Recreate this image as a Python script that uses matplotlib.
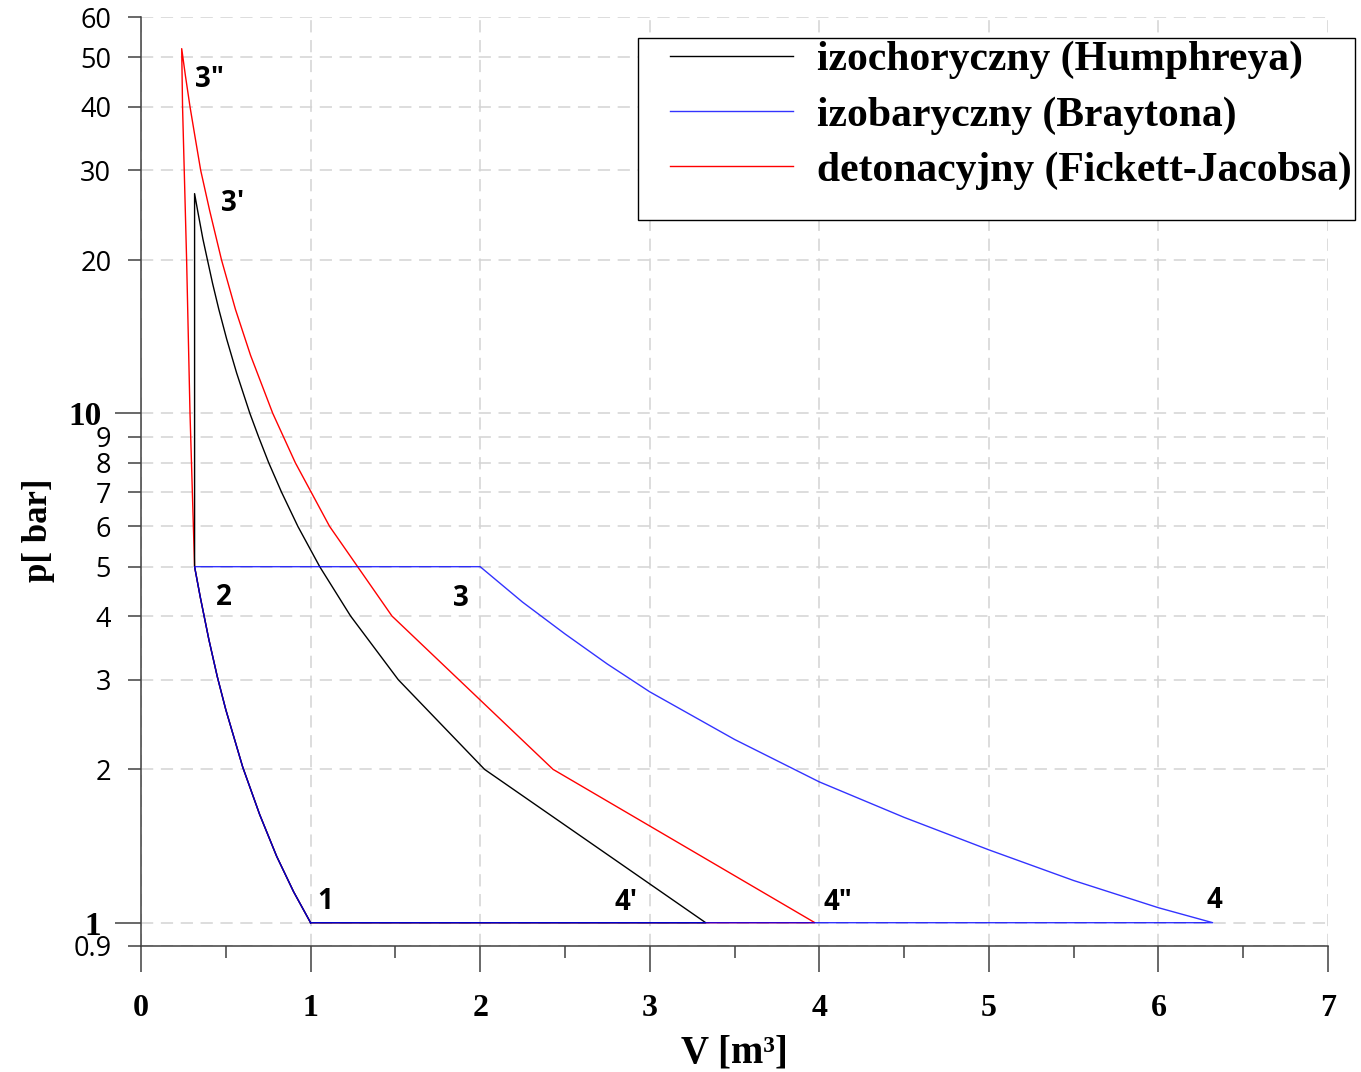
import matplotlib
matplotlib.use('Agg')
import matplotlib.pyplot as plt
from matplotlib.patches import Rectangle
from matplotlib.font_manager import FontProperties

# wspolne sprezanie 1-2
v_comp = [1.0, 0.9, 0.8, 0.7, 0.6, 0.5, 0.45, 0.4, 0.35, 0.316]
p_comp = [1.0, 1.15, 1.35, 1.63, 2.02, 2.62, 3.04, 3.6, 4.35, 5.0]

# Humphrey: 2 -> 3' (izochora), rozprezanie 3' -> 4'
v_hum = [0.316, 0.316, 0.334, 0.365, 0.392, 0.422, 0.459, 0.505, 0.564, 0.642, 0.693,
         0.753, 0.829, 0.925, 1.054, 1.236, 1.517, 2.026, 3.33]
p_hum = [5.0, 27.0, 25.0, 22.0, 20.0, 18.0, 16.0, 14.0, 12.0, 10.0, 9.0,
         8.0, 7.0, 6.0, 5.0, 4.0, 3.0, 2.0, 1.0]

# Brayton: 2 -> 3 (izobara), rozprezanie 3 -> 4
v_bra = [0.316, 2.0, 2.25, 2.5, 2.75, 3.0, 3.5, 4.0, 4.5, 5.0, 5.5, 6.0, 6.32]
p_bra = [5.0, 5.0, 4.26, 3.69, 3.22, 2.84, 2.29, 1.89, 1.61, 1.39, 1.21, 1.07, 1.0]

# Fickett-Jacobs: 2 -> 3", rozprezanie 3" -> 4"
v_fj = [0.316, 0.289, 0.269, 0.255, 0.245, 0.240, 0.262, 0.289, 0.318, 0.352, 0.405,
        0.475, 0.557, 0.646, 0.777, 0.910, 1.112, 1.48, 2.43, 3.974]
p_fj = [5.0, 10.0, 20.0, 30.0, 40.0, 52.0, 46.0, 40.0, 35.0, 30.0, 25.0,
        20.0, 16.0, 13.0, 10.0, 8.0, 6.0, 4.0, 2.0, 1.0]

labels = ['izochoryczny (Humphreya)', 'izobaryczny (Braytona)',
          'detonacyjny (Fickett-Jacobsa)']

# punkty charakterystyczne
pt_names = ['1', '2', '3', '4', "3'", '3"', "4'", '4"']
pt_v = [1.0, 0.316, 2.0, 6.32, 0.316, 0.240, 3.33, 3.974]
pt_p = [1.0, 5.0, 5.0, 1.0, 27.0, 52.0, 1.0, 1.0]
pt_off = [(15, 21), (29, -31), (-19, -32), (2, 22), (38, -10), (28, -31), (-80, 20), (23, 20)]

x_ticks = [0, 1, 2, 3, 4, 5, 6, 7]
x_minor = [0.5, 1.5, 2.5, 3.5, 4.5, 5.5, 6.5]
y_major = [1, 10]
y_minor = [0.9, 2, 3, 4, 5, 6, 7, 8, 9, 20, 30, 40, 50, 60]
y_minor_labels = ['0.9', '2', '3', '4', '5', '6', '7', '8', '9', '20', '30', '40', '50', '60']

W, H = 1361, 1072
fig = plt.figure(figsize=(W / 100, H / 100), dpi=100)
ax = fig.add_axes([141 / W, 126 / H, 1187 / W, 929 / H])
ax.set_yscale('log')
ax.set_xlim(0, 7)
ax.set_ylim(0.9, 60)

cyc = lambda v, p: (v_comp + v + [1.0], p_comp + p + [1.0])
vr, pr = cyc(v_fj, p_fj)
hr, = ax.plot(vr, pr, color='red', lw=1.0, zorder=2)
vk, pk = cyc(v_hum, p_hum)
hk, = ax.plot(vk, pk, color='black', lw=1.0, zorder=2.1)
vb, pb = cyc(v_bra, p_bra)
hb, = ax.plot(vb, pb, color='blue', lw=1.0, alpha=0.8, zorder=2.2)

for name, v, p, off in zip(pt_names, pt_v, pt_p, pt_off):
    ax.annotate(name, (v, p), xytext=off, textcoords='offset pixels',
                ha='center', va='center', fontsize=20, fontweight='bold',
                fontfamily='Open Sans')

ax.set_xticks(x_ticks, labels=[str(t) for t in x_ticks], fontsize=23,
              fontweight='bold', fontfamily='Liberation Serif')
ax.set_xticks(x_minor, minor=True)
ax.set_yticks(y_major, labels=['1', '10'], fontsize=24, fontweight='bold',
              fontfamily='Liberation Serif')
ax.set_yticks(y_minor, labels=y_minor_labels, minor=True, fontsize=19.5,
              fontfamily='Open Sans')

tc = '#404040'
ax.tick_params(axis='x', which='major', length=18.7, width=1.1, color=tc, pad=16)
ax.tick_params(axis='x', which='minor', length=8.6, width=1.1, color=tc)
ax.tick_params(axis='y', which='major', length=18.7, width=1.1, color=tc, pad=10)
ax.tick_params(axis='y', which='minor', length=9.4, width=1.1, color=tc, pad=12)

for s in ['top', 'right']:
    ax.spines[s].set_visible(False)
for s in ['left', 'bottom']:
    ax.spines[s].set_color(tc)
    ax.spines[s].set_linewidth(1.1)

gkw = dict(color='#d3d3d3', linestyle=(0, (8, 5)), linewidth=1.1)
ax.xaxis.grid(True, which='major', **gkw)
ax.yaxis.grid(True, which='both', **gkw)
ax.set_axisbelow(True)

ax.set_xlabel('V [m³]', fontsize=28, fontweight='bold', fontfamily='Liberation Serif',
              labelpad=8)
ax.set_ylabel('p[ bar]', fontsize=25, fontweight='bold', fontfamily='Liberation Serif')
ax.yaxis.set_label_coords(-0.0725, 0.448)

# ramka legendy
fig.add_artist(Rectangle((638 / W, 1 - 220 / H), 717 / W, 182 / H,
                         transform=fig.transFigure, facecolor='white',
                         edgecolor='black', lw=1.0, zorder=4))
fig.legend([hk, hb, hr], labels, loc='upper left',
           bbox_to_anchor=(670 / W, 1 - 41 / H), bbox_transform=fig.transFigure,
           frameon=False, prop=FontProperties(family='Liberation Serif', weight='bold', size=30),
           handlelength=2.95, handletextpad=0.58, labelspacing=0.4,
           borderpad=0, borderaxespad=0).set_zorder(5)

fig.savefig('out.png', dpi=100)
